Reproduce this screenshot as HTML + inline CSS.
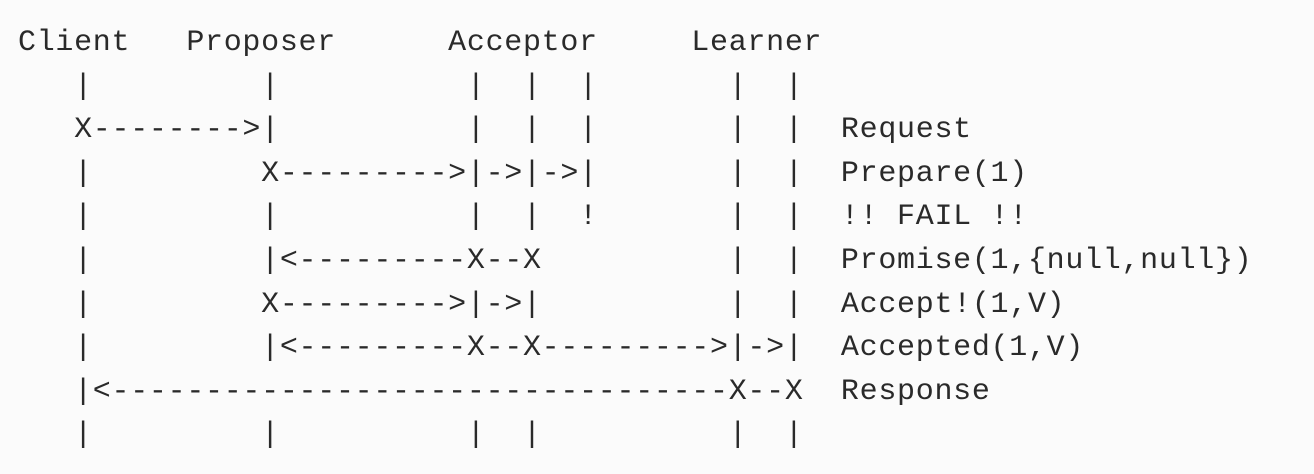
<!DOCTYPE html>
<html>
<head>
<meta charset="utf-8">
<style>
  html,body{margin:0;padding:0;}
  body{width:1314px;height:474px;background:#fbfbfb;overflow:hidden;position:relative;}
  pre{
    position:absolute;left:18px;top:22px;margin:0;
    font-family:"Liberation Mono",monospace;
    font-size:30px;letter-spacing:0.7px;line-height:43.6px;
    color:#2a2a2a;
  }
</style>
</head>
<body>
<pre>Client   Proposer      Acceptor     Learner
   |         |          |  |  |       |  |
   X-------->|          |  |  |       |  |  Request
   |         X--------->|->|->|       |  |  Prepare(1)
   |         |          |  |  !       |  |  !! FAIL !!
   |         |&lt;---------X--X          |  |  Promise(1,{null,null})
   |         X--------->|->|          |  |  Accept!(1,V)
   |         |&lt;---------X--X--------->|->|  Accepted(1,V)
   |&lt;---------------------------------X--X  Response
   |         |          |  |          |  |</pre>
</body>
</html>
